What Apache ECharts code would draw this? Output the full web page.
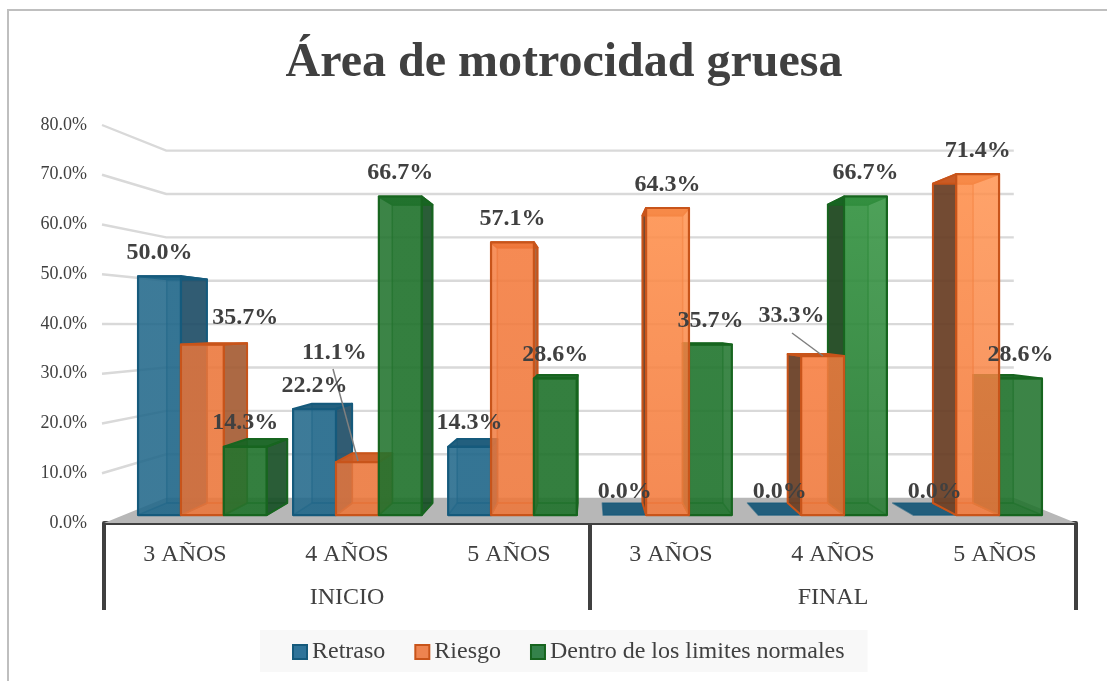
<!DOCTYPE html>
<html><head><meta charset="utf-8">
<style>html,body{margin:0;padding:0;background:#fff}#c{width:1107px;height:681px}</style>
<script src="https://cdn.jsdelivr.net/npm/echarts@6/dist/echarts.min.js"></script>
</head><body><div id="c"></div>
<script>
const categories = ['3 AÑOS','4 AÑOS','5 AÑOS','3 AÑOS','4 AÑOS','5 AÑOS'];
const periods = ['INICIO','FINAL'];
const retraso = [50.0,22.2,14.3,0.0,0.0,0.0];
const riesgo = [35.7,11.1,57.1,64.3,33.3,71.4];
const dentro = [14.3,66.7,28.6,35.7,66.7,28.6];
const seriesNames = ['Retraso','Riesgo','Dentro de los limites normales'];
const yTicks = [0,10,20,30,40,50,60,70,80];

const FONT = '"Liberation Serif","Times New Roman",serif';
const INK = '#404040';
const VP = [590,325];            // vanishing point of the 3D view
const S_FRONT = 0.96, S_BACK = 0.899, S_WALL = 0.872, X_TRIM = 0.997;
const BAR_W = 44.8;
const palette = [
 {rgb:[34,104,138],a:.88,edge:'#155a7c',inner:'rgba(21,90,124,0.6)',sideR:'rgba(30,75,100,0.88)',sideL:'rgba(20,60,80,0.9)',top:'rgba(25,88,120,0.95)'},
 {rgb:[235,118,58],a:.84,edge:'#c8541a',inner:'rgba(200,84,26,0.6)',sideR:'rgba(160,90,50,0.88)',sideL:'rgba(100,60,35,0.9)',top:'rgba(205,92,36,0.95)'},
 {rgb:[33,115,45],a:.88,edge:'#17651f',inner:'rgba(23,101,31,0.65)',sideR:'rgba(25,80,40,0.9)',sideL:'rgba(30,70,32,0.92)',top:'rgba(24,100,36,0.95)'}
];
const lift = [[0,0,0,0,0,0],[0,0,0.03,0.13,0.04,0.13],[0,0,0,0.02,0.16,0]];
const drawOrder = [[1,2,3],[1,2,3],[1,2,3],[1,3,2],[1,3,2],[1,3,2]];
const labelNudge = {'1-1':[-23,-109],'1-0':[43,-27],'1-4':[-31,-40]};
const leaders = {'1-1':[[333,369],[358,461]],'1-4':[[792,333],[823,356]]};

function proj(p,s){return [VP[0]+(p[0]-VP[0])*s, VP[1]+(p[1]-VP[1])*s];}
function tint(c,k,al){
 const f=x=>Math.min(255,Math.round((x*(1+k)+255*k*0.35)));
 return 'rgba('+f(c.rgb[0])+','+f(c.rgb[1])+','+f(c.rgb[2])+','+(al==null?c.a:al)+')';
}
function barRender(sIdx){
 return function(params,api){
  const cat=api.value(0), v=api.value(1);
  const base=api.coord([cat,0]), tip=api.coord([cat,v]);
  const xl=base[0]+(sIdx-1.5)*BAR_W, xr=xl+BAR_W, y0=base[1], y1=tip[1];
  const c=palette[sIdx];
  const z=drawOrder[cat][sIdx]*10;
  const P=(x,y,s)=>{const q=proj([x,y],s);q[0]=VP[0]+(q[0]-VP[0])*X_TRIM;return q;};
  const F=(x,y)=>P(x,y,S_FRONT), B=(x,y)=>P(x,y,S_BACK);
  const poly=(pts,fill,dz,lw,st)=>({type:'polygon',z2:z+dz,shape:{points:pts},
     style:{fill:fill,stroke:st||c.edge,lineWidth:lw,lineJoin:'round'}});
  const kids=[];
  const backFill=tint(c,0,0.3);
  if(v>0) kids.push(poly([B(xl,y0),B(xr,y0),B(xr,y1),B(xl,y1)],backFill,0,1.6,c.inner));
  kids.push(poly([F(xl,y0),F(xr,y0),B(xr,y0),B(xl,y0)],v>0?backFill:c.top,1,1.6,c.inner));
  if(v>0){
    if(cat<3) kids.push(poly([F(xr,y0),B(xr,y0),B(xr,y1),F(xr,y1)],c.sideR,2,2));
    else kids.push(poly([F(xl,y0),B(xl,y0),B(xl,y1),F(xl,y1)],c.sideL,2,2));
    kids.push(poly([F(xl,y1),F(xr,y1),B(xr,y1),B(xl,y1)],c.top,3,2));
    const a=lift[sIdx][cat];
    const fill={type:'linear',x:0,y:0,x2:0,y2:1,colorStops:[
      {offset:0,color:tint(c,a)},{offset:1,color:tint(c,a*0.2)}]};
    kids.push(poly([F(xl,y0),F(xr,y0),F(xr,y1),F(xl,y1)],fill,4,2.2));
  }
  const key=sIdx+'-'+cat, n=labelNudge[key]||[0,-23.5];
  const ft=F((xl+xr)/2,y1);
  if(leaders[key]) kids.push({type:'line',z2:90,shape:{x1:leaders[key][0][0],y1:leaders[key][0][1],x2:leaders[key][1][0],y2:leaders[key][1][1]},style:{stroke:'#7f7f7f',lineWidth:1.5}});
  kids.push({type:'text',z2:100,style:{x:ft[0]+n[0],y:ft[1]+n[1],text:v.toFixed(1)+'%',align:'center',verticalAlign:'middle',
     font:'bold 24px '+FONT,fill:INK}});
  return {type:'group',children:kids};
 };
}
function wallRender(params,api){
 const t=api.value(1);
 const y=api.coord([0,t])[1];
 const cs=params.coordSys;
 const a=[cs.x-2,y], b=proj([cs.x,y],S_WALL), c=proj([cs.x+cs.width,y],S_WALL);
 if(t===0) return {type:'group',children:[]};
 return {type:'polyline',shape:{points:[a,b,c]},style:{fill:null,stroke:'#d9d9d9',lineWidth:2.4}};
}
function floorRender(params,api){
 const cs=params.coordSys, y=api.coord([0,0])[1];
 const l=cs.x, r=cs.x+cs.width;
 return {type:'polygon',shape:{points:[[l,y],[r,y],proj([r,y],S_WALL),proj([l,y],S_WALL)]},style:{fill:'#b7b7b7'}};
}
const seriesData=[retraso,riesgo,dentro];
const legendColors=[['#2e7399','#155a7c'],['#ee8450','#c8541a'],['#34824a','#17651f']];

const chart=echarts.init(document.getElementById('c'),null,{renderer:'canvas'});
chart.setOption({
 animation:false,
 backgroundColor:'#fff',
 title:{text:'Área de motrocidad gruesa',left:559,top:35,textAlign:'center',
   textStyle:{fontFamily:FONT,fontWeight:'bold',fontSize:48,color:INK}},
 grid:{left:104,right:31,top:125,bottom:158,containLabel:false},
 xAxis:[
  {type:'category',data:categories,position:'bottom',
   axisLine:{show:true,lineStyle:{color:INK,width:4}},axisTick:{show:false},
   axisLabel:{interval:0,margin:20,fontFamily:FONT,fontSize:24,color:INK},splitLine:{show:false}},
  {type:'category',data:periods,position:'bottom',
   axisLine:{show:false},axisTick:{show:true,length:87,lineStyle:{color:INK,width:4}},
   axisLabel:{interval:0,margin:63,fontFamily:FONT,fontSize:24,color:INK},splitLine:{show:false}}
 ],
 yAxis:{type:'value',min:0,max:80,interval:10,
   axisLine:{show:false},axisTick:{show:false},splitLine:{show:false},
   axisLabel:{margin:17,fontFamily:FONT,fontSize:18,color:INK,formatter:v=>v.toFixed(1)+'%'}},
 legend:{data:seriesNames.map((n,i)=>({name:n,icon:'rect',itemStyle:{color:legendColors[i][0],borderColor:legendColors[i][1],borderWidth:2}})),
   left:260,top:630,selectedMode:false,orient:'horizontal',itemWidth:14,itemHeight:14,itemGap:29,
   padding:[10,23,8,32],backgroundColor:'#f8f8f8',
   textStyle:{fontFamily:FONT,fontSize:24,color:INK}},
 graphic:[{type:'polyline',silent:true,z:-1,shape:{points:[[8,681],[8,10],[1107,10]]},style:{fill:null,stroke:'#bfbfbf',lineWidth:2}}],
 series:[
  {type:'custom',name:'wall',silent:true,z:1,xAxisIndex:0,renderItem:wallRender,data:yTicks.map(t=>[0,t]),encode:{x:0,y:1}},
  {type:'custom',name:'floor',silent:true,z:1,xAxisIndex:0,renderItem:floorRender,data:[[0,0]],encode:{x:0,y:1}},
 ].concat(seriesNames.map((n,i)=>({type:'custom',name:n,z:2,xAxisIndex:0,
   itemStyle:{color:legendColors[i][0]},renderItem:barRender(i),
   data:seriesData[i].map((v,k)=>[k,v]),encode:{x:0,y:1}})))
});
</script></body></html>
